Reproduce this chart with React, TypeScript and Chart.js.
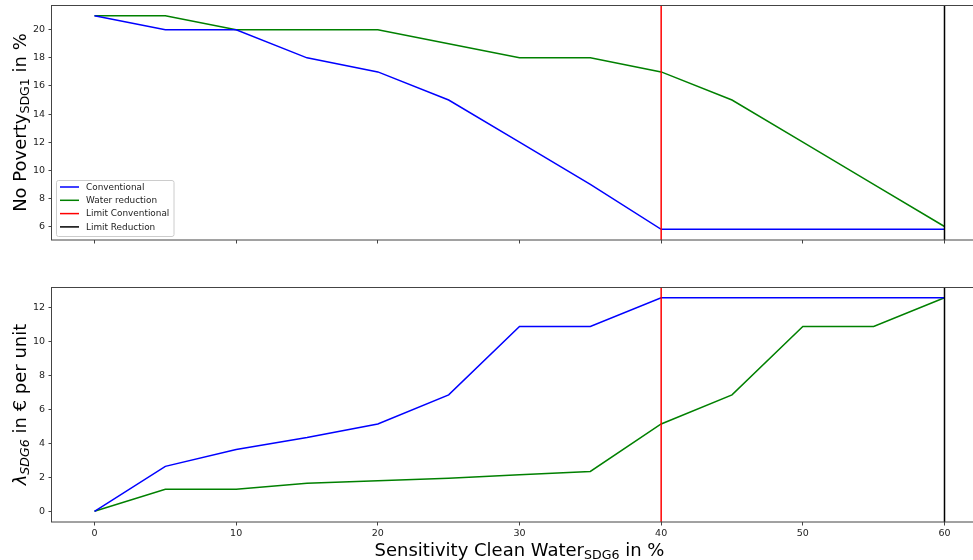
import React, { useEffect, useRef } from "react";
import { Chart, registerables } from "chart.js";
Chart.register(...registerables);

const X_VALUES = [0, 5, 10, 15, 20, 25, 30, 35, 40, 45, 50, 55, 60];
const TOP_CONVENTIONAL = [21, 20, 20, 18, 17, 15, 12, 9, 5.8, 5.8, 5.8, 5.8, 5.8];
const TOP_WATER = [21, 21, 20, 20, 20, 19, 18, 18, 17, 15, 12, 9, 6];
const BOTTOM_CONVENTIONAL = [0, 2.65, 3.65, 4.35, 5.15, 6.87, 10.9, 10.9, 12.6, 12.6, 12.6, 12.6, 12.6];
const BOTTOM_WATER = [0, 1.3, 1.3, 1.65, 1.8, 1.95, 2.15, 2.35, 5.15, 6.87, 10.9, 10.9, 12.6];
const LIMIT_CONVENTIONAL = 40;
const LIMIT_REDUCTION = 60;
const X_TICKS = [0, 10, 20, 30, 40, 50, 60];
const TOP_Y_TICKS = [6, 8, 10, 12, 14, 16, 18, 20];
const BOTTOM_Y_TICKS = [0, 2, 4, 6, 8, 10, 12];
const X_RANGE = [-3, 63];
const TOP_Y_RANGE = [5.04, 21.76];
const BOTTOM_Y_RANGE = [-0.63, 13.23];
const SERIES_LABELS = ["Conventional", "Water reduction", "Limit Conventional", "Limit Reduction"];
const SERIES_COLORS = ["#0000ff", "#008000", "#ff0000", "#000000"];

const FONT = '"DejaVu Sans", sans-serif';
const SPINE = "#444";

type Seg = { t: string; sub?: boolean; italic?: boolean };

function drawRich(ctx: CanvasRenderingContext2D, segs: Seg[], cx: number, baseline: number, size: number, rotate: boolean) {
  ctx.save();
  ctx.translate(cx, baseline);
  if (rotate) ctx.rotate(-Math.PI / 2);
  const fontFor = (s: Seg) => `${s.italic ? "italic " : ""}${s.sub ? size * 0.7 : size}px ${FONT}`;
  let w = 0;
  const widths: number[] = [];
  for (const s of segs) {
    ctx.font = fontFor(s);
    const m = ctx.measureText(s.t).width;
    widths.push(m);
    w += m;
  }
  let x = -w / 2;
  ctx.fillStyle = "#000";
  ctx.textBaseline = "alphabetic";
  ctx.textAlign = "left";
  segs.forEach((s, i) => {
    ctx.font = fontFor(s);
    ctx.fillText(s.t, x, s.sub ? size * 0.22 : 0);
    x += widths[i];
  });
  ctx.restore();
}

const framePlugin = {
  id: "frame",
  afterDatasetsDraw(chart: any) {
    const { ctx, chartArea: a } = chart;
    ctx.save();
    ctx.strokeStyle = SPINE;
    ctx.lineWidth = 1;
    ctx.strokeRect(Math.round(a.left) - 0.5, Math.round(a.top) + 0.5, Math.round(a.right - a.left), Math.round(a.bottom - a.top) - 0.5);
    ctx.restore();
  },
};

function lineDatasets(conv: number[], water: number[], yr: number[]) {
  const pts = (arr: number[]) => X_VALUES.map((x, i) => ({ x, y: arr[i] }));
  return [
    { label: SERIES_LABELS[0], data: pts(conv), borderColor: SERIES_COLORS[0], order: 2 },
    { label: SERIES_LABELS[1], data: pts(water), borderColor: SERIES_COLORS[1], order: 2 },
    {
      label: SERIES_LABELS[2],
      data: [{ x: LIMIT_CONVENTIONAL, y: yr[0] }, { x: LIMIT_CONVENTIONAL, y: yr[1] }],
      borderColor: SERIES_COLORS[2],
      order: 1,
    },
    {
      label: SERIES_LABELS[3],
      data: [{ x: LIMIT_REDUCTION, y: yr[0] }, { x: LIMIT_REDUCTION, y: yr[1] }],
      borderColor: SERIES_COLORS[3],
      order: 1,
    },
  ].map((d) => ({ ...d, borderWidth: 1.5, pointRadius: 0, tension: 0, fill: false }));
}

function makeOptions(yr: number[], yTicks: number[], showX: boolean, padTop: number, xHeight: number) {
  return {
    responsive: false,
    animation: false,
    devicePixelRatio: 1,
    layout: { padding: { top: padTop, right: 13, left: 0, bottom: 0 } },
    plugins: { legend: { display: false }, tooltip: { enabled: false } },
    scales: {
      x: {
        type: "linear",
        min: X_RANGE[0],
        max: X_RANGE[1],
        afterBuildTicks: (s: any) => {
          s.ticks = X_TICKS.map((v) => ({ value: v }));
        },
        afterFit: (s: any) => {
          s.height = xHeight;
          s.paddingLeft = 0;
          s.paddingRight = 0;
        },
        ticks: { display: showX, autoSkip: false, maxRotation: 0, font: { family: FONT, size: 9.5 }, color: "#222", padding: 2 },
        grid: { drawOnChartArea: false, drawTicks: true, tickLength: 3.5, color: SPINE },
        border: { display: false },
      },
      y: {
        type: "linear",
        min: yr[0],
        max: yr[1],
        afterBuildTicks: (s: any) => {
          s.ticks = yTicks.map((v) => ({ value: v }));
        },
        afterFit: (s: any) => {
          s.width = 52;
          s.paddingTop = 0;
          s.paddingBottom = 0;
        },
        ticks: { autoSkip: false, font: { family: FONT, size: 9.5 }, color: "#222", padding: 3.5 },
        grid: { drawOnChartArea: false, drawTicks: true, tickLength: 3.5, color: SPINE },
        border: { display: false },
      },
    },
  };
}

const topTextPlugin = {
  id: "topText",
  afterDraw(chart: any) {
    const ctx = chart.ctx as CanvasRenderingContext2D;
    const a = chart.chartArea;
    drawRich(ctx, [{ t: "No Poverty" }, { t: "SDG1", sub: true }, { t: " in %" }], 25.5, (a.top + a.bottom) / 2, 18, true);
    // legend
    ctx.save();
    const bx = 56.5, by = 180.5, bw = 117.5, bh = 56;
    ctx.fillStyle = "rgba(255,255,255,0.8)";
    ctx.strokeStyle = "#cccccc";
    ctx.lineWidth = 1;
    ctx.beginPath();
    (ctx as any).roundRect(bx, by, bw, bh, 2);
    ctx.fill();
    ctx.stroke();
    ctx.font = `8.9px ${FONT}`;
    ctx.textBaseline = "middle";
    ctx.textAlign = "left";
    chart.data.datasets.forEach((d: any, i: number) => {
      const y = 187 + i * 13.3;
      ctx.strokeStyle = d.borderColor;
      ctx.lineWidth = 1.5;
      ctx.beginPath();
      ctx.moveTo(60, y);
      ctx.lineTo(79, y);
      ctx.stroke();
      ctx.fillStyle = "#222";
      ctx.fillText(d.label, 86, y + 0.5);
    });
    ctx.restore();
  },
};

const bottomTextPlugin = {
  id: "bottomText",
  afterDraw(chart: any) {
    const ctx = chart.ctx as CanvasRenderingContext2D;
    const a = chart.chartArea;
    drawRich(ctx, [{ t: "λ", italic: true }, { t: "SDG6", sub: true, italic: true }, { t: " in € per unit" }], 25.5, (a.top + a.bottom) / 2, 18, true);
    drawRich(ctx, [{ t: "Sensitivity Clean Water" }, { t: "SDG6", sub: true }, { t: " in %" }], (a.left + 935 / 2), 305.5, 18, false);
  },
};

export default function App() {
  const topRef = useRef<HTMLCanvasElement>(null);
  const botRef = useRef<HTMLCanvasElement>(null);
  useEffect(() => {
    const c1 = new Chart(topRef.current!, {
      type: "line",
      data: { datasets: lineDatasets(TOP_CONVENTIONAL, TOP_WATER, [TOP_Y_RANGE[0] - 1, TOP_Y_RANGE[1] + 1]) as any },
      options: makeOptions(TOP_Y_RANGE, TOP_Y_TICKS, false, 5, 10) as any,
      plugins: [framePlugin, topTextPlugin],
    });
    const c2 = new Chart(botRef.current!, {
      type: "line",
      data: { datasets: lineDatasets(BOTTOM_CONVENTIONAL, BOTTOM_WATER, [BOTTOM_Y_RANGE[0] - 1, BOTTOM_Y_RANGE[1] + 1]) as any },
      options: makeOptions(BOTTOM_Y_RANGE, BOTTOM_Y_TICKS, true, 37, 38) as any,
      plugins: [framePlugin, bottomTextPlugin],
    });
    return () => {
      c1.destroy();
      c2.destroy();
    };
  }, []);
  return (
    <div style={{ position: "fixed", left: 0, top: 0, width: 973, height: 560, overflow: "hidden", background: "#fff" }}>
      <canvas ref={topRef} width={1000} height={250} style={{ position: "absolute", left: 0, top: 0, width: 1000, height: 250 }} />
      <canvas ref={botRef} width={1000} height={310} style={{ position: "absolute", left: 0, top: 250, width: 1000, height: 310 }} />
    </div>
  );
}
